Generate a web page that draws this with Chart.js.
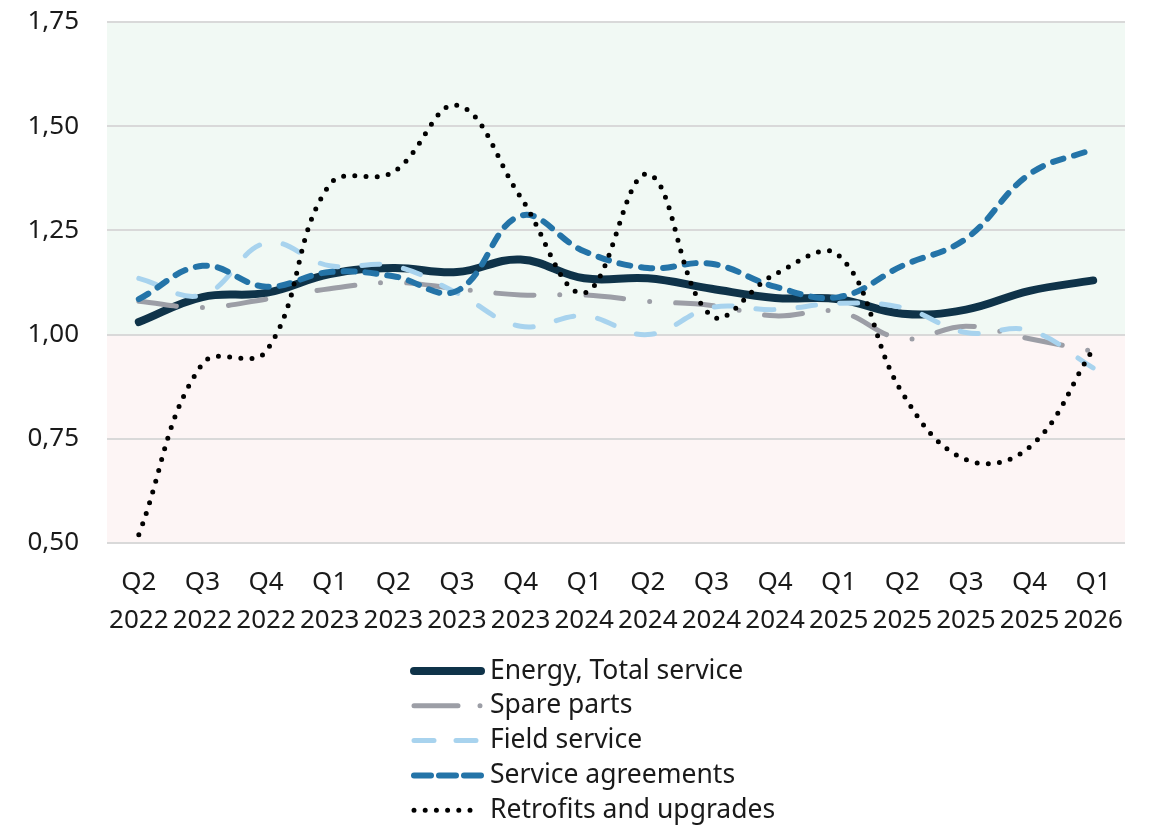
<!DOCTYPE html>
<html>
<head>
<meta charset="utf-8">
<title>Service index by quarter</title>
<script src="https://cdn.jsdelivr.net/npm/chart.js@4.4.1/dist/chart.umd.min.js"></script>
<style>
    html, body { margin: 0; padding: 0; background: #fff; }
    #wrap { width: 1153px; height: 827px; }
</style>
</head>
<body>
<div id="wrap"><canvas id="serviceChart" width="1153" height="827"></canvas></div>
<script>
// Quarter labels (two lines each)
const quarters = ['Q2', 'Q3', 'Q4', 'Q1', 'Q2', 'Q3', 'Q4', 'Q1', 'Q2', 'Q3', 'Q4', 'Q1', 'Q2', 'Q3', 'Q4', 'Q1'];
const years = ['2022', '2022', '2022', '2023', '2023', '2023', '2023', '2024', '2024', '2024', '2024', '2025', '2025', '2025', '2025', '2026'];

// Index values per series
const energyTotal = [1.03, 1.09, 1.10, 1.145, 1.16, 1.15, 1.18, 1.135, 1.135, 1.11, 1.088, 1.085, 1.05, 1.06, 1.105, 1.13];
const spareParts = [1.08, 1.065, 1.085, 1.11, 1.125, 1.11, 1.095, 1.095, 1.08, 1.07, 1.045, 1.055, 0.99, 1.02, 0.99, 0.96];
const fieldService = [1.135, 1.095, 1.22, 1.165, 1.165, 1.10, 1.02, 1.045, 1.00, 1.065, 1.06, 1.075, 1.065, 1.005, 1.01, 0.92];
const serviceAgreements = [1.085, 1.165, 1.115, 1.15, 1.14, 1.105, 1.285, 1.20, 1.16, 1.17, 1.115, 1.09, 1.165, 1.23, 1.385, 1.445];
const retrofits = [0.52, 0.93, 0.96, 1.36, 1.39, 1.55, 1.33, 1.10, 1.385, 1.045, 1.145, 1.19, 0.86, 0.70, 0.73, 0.965];

// Y axis range and the 1,00 split line
const yMin = 0.50;
const yMax = 1.75;
const yStep = 0.25;
const threshold = 1.00;

const labels = quarters.map((q, i) => [q, years[i]]);
const FONT = '"Noto Sans", "Open Sans", sans-serif';
const TEXT = '#1a1a1a';

// Green above 1,00 and pink below it
const zoneFill = {
    id: 'zoneFill',
    beforeDraw(chart) {
        const { ctx, chartArea: a, scales: { y } } = chart;
        const mid = y.getPixelForValue(threshold);
        ctx.save();
        ctx.fillStyle = '#f1f9f4';
        ctx.fillRect(a.left, a.top, a.right - a.left, mid - a.top);
        ctx.fillStyle = '#fdf5f5';
        ctx.fillRect(a.left, mid, a.right - a.left, a.bottom - mid);
        ctx.restore();
    }
};

// Stacked legend under the axis, one row per dataset
const stackedLegend = {
    id: 'stackedLegend',
    afterDraw(chart) {
        const ctx = chart.ctx;
        const x0 = 414, x1 = 481, textX = 490;
        const top = 671, rowH = 34.8;
        ctx.save();
        chart.data.datasets.forEach((ds, i) => {
            const yy = top + i * rowH;
            ctx.beginPath();
            ctx.strokeStyle = ds.borderColor;
            ctx.lineWidth = ds.borderWidth;
            ctx.lineCap = 'round';
            ctx.setLineDash(ds.legendDash || ds.borderDash || []);
            ctx.moveTo(x0, yy);
            ctx.lineTo(x1, yy);
            ctx.stroke();
            ctx.setLineDash([]);
            ctx.fillStyle = TEXT;
            ctx.font = '26.5px ' + FONT;
            ctx.textBaseline = 'middle';
            ctx.textAlign = 'left';
            ctx.fillText(ds.label, textX, yy);
        });
        ctx.restore();
    }
};

const common = {
    pointRadius: 0,
    pointHoverRadius: 0,
    fill: false,
    tension: 0.4,
    borderCapStyle: 'round',
    borderJoinStyle: 'round'
};

const ctx = document.getElementById('serviceChart').getContext('2d');

new Chart(ctx, {
    type: 'line',
    data: {
        labels: labels,
        datasets: [
            { ...common, label: 'Energy, Total service', data: energyTotal, borderColor: '#0f3349', borderWidth: 8, order: 5 },
            { ...common, label: 'Spare parts', data: spareParts, borderColor: '#9c9ea6', borderWidth: 5, borderDash: [38, 26, 0, 26], legendDash: [44, 22, 0, 30], order: 4 },
            { ...common, label: 'Field service', data: fieldService, borderColor: '#a8d3ee', borderWidth: 5, borderDash: [18, 24], legendDash: [20, 22], order: 3 },
            { ...common, label: 'Service agreements', data: serviceAgreements, borderColor: '#2474a8', borderWidth: 6, borderDash: [11, 11], legendDash: [17, 8], order: 2 },
            { ...common, label: 'Retrofits and upgrades', data: retrofits, borderColor: '#000000', borderWidth: 5, borderDash: [0, 11.2], order: 1 }
        ]
    },
    options: {
        responsive: false,
        animation: false,
        layout: { padding: { top: 22, right: 28, bottom: 0, left: 0 } },
        plugins: {
            legend: { display: false },
            tooltip: { enabled: false }
        },
        scales: {
            x: {
                type: 'category',
                offset: true,
                grid: { display: false },
                border: { display: false },
                ticks: {
                    color: TEXT,
                    font: { family: FONT, size: 26, lineHeight: 1.46 },
                    padding: 13,
                    maxRotation: 0,
                    autoSkip: false
                },
                afterFit(scale) { scale.height = 284; }
            },
            y: {
                min: yMin,
                max: yMax,
                // invisible tick marks keep the labels clear of the plot
                grid: { color: '#d9d9d9', lineWidth: 2, drawTicks: true, tickLength: 28, tickColor: 'rgba(0,0,0,0)' },
                border: { display: false },
                ticks: {
                    stepSize: yStep,
                    color: TEXT,
                    font: { family: FONT, size: 26 },
                    padding: 0,
                    callback: v => v.toFixed(2).replace('.', ',')
                },
                afterFit(scale) { scale.width = 107; }
            }
        }
    },
    plugins: [zoneFill, stackedLegend]
});
</script>
</body>
</html>
